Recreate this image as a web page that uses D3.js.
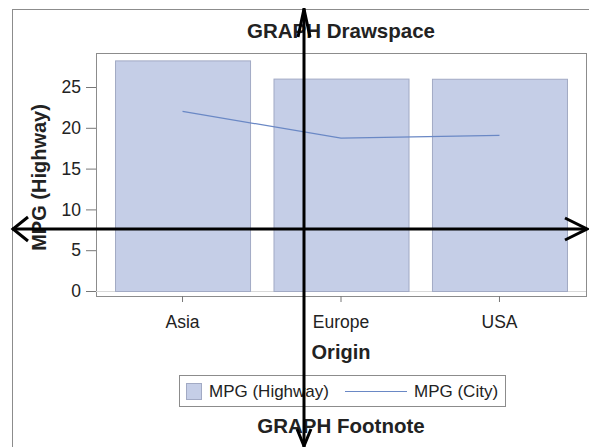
<!DOCTYPE html>
<html>
<head>
<meta charset="utf-8">
<script src="https://cdn.jsdelivr.net/npm/d3@7"></script>
<style>
  body { margin: 0; background: #fff; }
  svg { display: block; font-family: "Liberation Sans", Arial, sans-serif; }
</style>
</head>
<body>
<svg id="chart" width="589" height="447"></svg>
<script>
// data
const origins = ['Asia', 'Europe', 'USA'];
const mpgHighway = [28.26, 26.03, 26.01];
const mpgCity = [22.01, 18.73, 19.07];
const yTicks = [0, 5, 10, 15, 20, 25];
const legendLabels = ['MPG (Highway)', 'MPG (City)'];

const svg = d3.select('#chart');

// plot box
const plot = { left: 96, top: 53, right: 586, bottom: 296 };

const barFill = '#c5cee7';
const barStroke = '#a2aac4';
const lineColor = '#6a88c5';
const frameColor = '#8c8c8c';

// outer frame (runs off the page on right / bottom)
svg.append('rect')
    .attr('x', 12.5).attr('y', 9.5)
    .attr('width', 640).attr('height', 500)
    .attr('fill', 'none')
    .attr('stroke', frameColor)
    .attr('stroke-width', 1);

// scales
const x = d3.scaleBand()
    .domain(origins)
    .range([plot.left, plot.right])
    .paddingInner(0.148)
    .paddingOuter(0.12);

const y = d3.scaleLinear()
    .domain([0, 25])
    .range([291, 87]);

// title
svg.append('text')
    .attr('x', (plot.left + plot.right) / 2)
    .attr('y', 38)
    .attr('text-anchor', 'middle')
    .style('font-size', '20.5px')
    .style('font-weight', 'bold')
    .attr('fill', '#222')
    .text('GRAPH Drawspace');

// plot frame
svg.append('rect')
    .attr('x', plot.left + 0.5).attr('y', plot.top + 0.5)
    .attr('width', plot.right - plot.left).attr('height', plot.bottom - plot.top)
    .attr('fill', '#fff')
    .attr('stroke', frameColor)
    .attr('stroke-width', 1);

// baseline
svg.append('line')
    .attr('x1', plot.left).attr('x2', plot.right)
    .attr('y1', y(0) + 0.5).attr('y2', y(0) + 0.5)
    .attr('stroke', '#d8d8d8');

// bars
svg.selectAll('.bar')
    .data(origins)
    .enter()
    .append('rect')
    .attr('class', 'bar')
    .attr('x', d => x(d) + 0.5)
    .attr('y', (d, i) => y(mpgHighway[i]) + 0.5)
    .attr('width', x.bandwidth())
    .attr('height', (d, i) => y(0) - y(mpgHighway[i]))
    .attr('fill', barFill)
    .attr('stroke', barStroke)
    .attr('stroke-width', 1);

// city line
const line = d3.line()
    .x((d, i) => x(origins[i]) + x.bandwidth() / 2)
    .y(d => y(d));

svg.append('path')
    .datum(mpgCity)
    .attr('fill', 'none')
    .attr('stroke', lineColor)
    .attr('stroke-width', 1.2)
    .attr('d', line);

// y axis
const yAxis = svg.append('g')
    .attr('transform', `translate(${plot.left}, 0)`)
    .call(d3.axisLeft(y).tickValues(yTicks).tickSize(10).tickPadding(5));
yAxis.select('.domain').remove();
yAxis.selectAll('line').attr('stroke', '#777');
yAxis.selectAll('text')
    .attr('fill', '#222')
    .style('font-size', '17.5px')
    .style('font-family', '"Liberation Sans", Arial, sans-serif');

// x axis
const xAxis = svg.append('g')
    .attr('transform', `translate(0, ${plot.bottom})`)
    .call(d3.axisBottom(x).tickSize(6).tickPadding(14));
xAxis.select('.domain').remove();
xAxis.selectAll('line').attr('stroke', '#777');
xAxis.selectAll('text')
    .attr('fill', '#222')
    .style('font-size', '17.5px')
    .style('font-family', '"Liberation Sans", Arial, sans-serif');

// axis labels
svg.append('text')
    .attr('x', (plot.left + plot.right) / 2)
    .attr('y', 359)
    .attr('text-anchor', 'middle')
    .style('font-size', '20px')
    .style('font-weight', 'bold')
    .attr('fill', '#222')
    .text('Origin');

svg.append('text')
    .attr('transform', `translate(46, ${(plot.top + plot.bottom) / 2 + 3}) rotate(-90)`)
    .attr('text-anchor', 'middle')
    .style('font-size', '20px')
    .style('font-weight', 'bold')
    .attr('fill', '#222')
    .text('MPG (Highway)');

// legend
const legend = svg.append('g');
legend.append('rect')
    .attr('x', 179.5).attr('y', 375.5)
    .attr('width', 326).attr('height', 31)
    .attr('fill', '#fff')
    .attr('stroke', frameColor);

legend.append('rect')
    .attr('x', 186.5).attr('y', 383.5)
    .attr('width', 15).attr('height', 16)
    .attr('fill', barFill)
    .attr('stroke', barStroke);

legend.append('text')
    .attr('x', 209).attr('y', 397)
    .style('font-size', '17px')
    .attr('fill', '#222')
    .text(legendLabels[0]);

legend.append('line')
    .attr('x1', 345).attr('x2', 407)
    .attr('y1', 391.5).attr('y2', 391.5)
    .attr('stroke', lineColor)
    .attr('stroke-width', 1.2);

legend.append('text')
    .attr('x', 414).attr('y', 397)
    .style('font-size', '17px')
    .attr('fill', '#222')
    .text(legendLabels[1]);

// footnote
svg.append('text')
    .attr('x', (plot.left + plot.right) / 2)
    .attr('y', 433)
    .attr('text-anchor', 'middle')
    .style('font-size', '20.5px')
    .style('font-weight', 'bold')
    .attr('fill', '#222')
    .text('GRAPH Footnote');

// big black axis arrows on top
const arrows = svg.append('g')
    .attr('stroke', '#000')
    .attr('stroke-width', 3)
    .attr('fill', 'none')
    .attr('stroke-linecap', 'butt')
    .attr('stroke-linejoin', 'miter');

// horizontal
arrows.append('line').attr('x1', 12).attr('x2', 587).attr('y1', 229).attr('y2', 229);
arrows.append('path').attr('d', 'M28,217 L13,229 L28,241');
arrows.append('path').attr('d', 'M565,218 L587,229 L565,240');

// vertical
arrows.append('line').attr('x1', 304).attr('x2', 304).attr('y1', 8).attr('y2', 447);
arrows.append('path').attr('d', 'M298,37 L304,9 L310,37');
arrows.append('path').attr('d', 'M297,429 L304,446 L311,429');
</script>
</body>
</html>
